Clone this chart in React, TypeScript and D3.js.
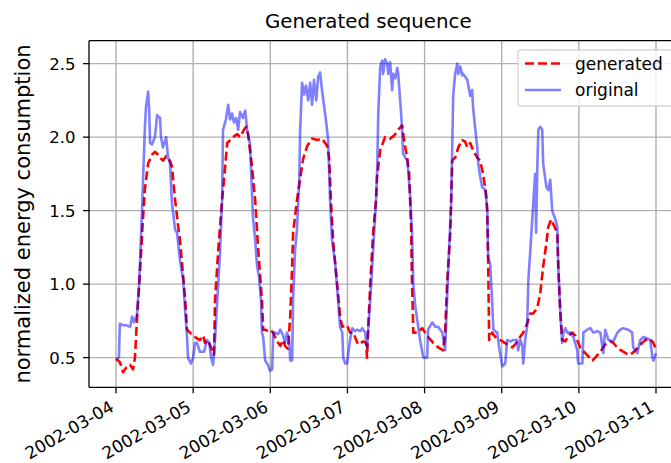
import React from "react";
import * as d3 from "d3";

// ---- data -------------------------------------------------------------
const START = Date.UTC(2002, 2, 4); // 2002-03-04 00:00
const HOUR = 3600 * 1000;

// original series: hours since start, values
const origHours = [
  0.0, 0.9, 1.2, 2.2, 3.1, 4.4, 5.0, 5.6, 6.5, 7.2, 8.1, 8.4, 9.0, 9.3, 10.0, 10.3, 10.6, 11.2, 12.1, 12.8,
  13.7, 14.0, 14.6, 15.6, 16.2, 16.8, 17.4, 18.4, 19.0, 19.9, 20.9, 21.5, 22.1, 22.4, 23.3, 24.0, 24.6, 25.2,
  26.1, 27.4, 28.3, 29.0, 29.6, 30.2, 30.8, 31.8, 32.4, 33.0, 33.3, 34.2, 34.9, 35.5, 36.1, 36.7, 37.4, 38.0,
  38.6, 39.5, 40.2, 40.8, 41.7, 42.6, 43.3, 43.9, 44.5, 45.1, 45.4, 45.8, 46.4, 47.3, 47.9, 48.6, 48.9, 49.5,
  50.4, 51.1, 52.0, 52.6, 53.2, 53.9, 54.2, 54.8, 55.1, 55.7, 56.3, 57.0, 57.3, 57.9, 58.5, 59.1, 59.8, 60.4,
  61.0, 61.6, 62.3, 62.9, 63.5, 64.1, 64.8, 65.4, 66.0, 66.6, 67.2, 68.2, 69.1, 69.7, 70.4, 70.7, 71.3, 71.9,
  72.8, 73.5, 74.4, 75.0, 76.0, 76.6, 77.5, 78.1, 79.1, 80.0, 80.9, 81.2, 81.6, 82.2, 82.8, 83.1, 83.7, 84.4,
  84.7, 85.3, 85.9, 86.2, 86.9, 87.5, 87.8, 88.7, 89.0, 89.3, 90.0, 90.6, 90.9, 91.5, 92.1, 92.5, 93.1, 93.7,
  94.6, 95.6, 96.8, 97.1, 98.4, 99.3, 100.2, 101.5, 102.4, 103.4, 104.3, 104.9, 105.5, 106.2, 106.5, 107.1,
  107.7, 108.0, 109.3, 110.2, 110.8, 111.1, 111.8, 112.4, 112.7, 113.3, 113.9, 114.9, 115.5, 115.8, 116.4,
  117.0, 117.4, 118.6, 119.2, 120.2, 121.1, 121.7, 122.7, 123.6, 124.8, 125.1, 125.8, 126.4, 126.7, 127.3,
  127.9, 128.3, 128.9, 129.5, 129.8, 130.4, 130.7, 131.1, 131.4, 132.0, 132.6, 132.9, 133.9, 134.5, 135.1,
  135.7, 136.7, 137.3, 137.6, 138.2, 138.8, 139.2, 139.8, 140.4, 141.3, 142.3, 143.5, 143.8, 145.1, 145.4,
  146.6, 147.6, 148.5, 149.7, 150.7, 151.6, 152.2, 153.2, 154.7, 156.0, 156.9, 157.8, 159.4, 160.6, 160.9,
  162.2, 163.1, 164.1, 165.3, 166.2, 166.9, 167.2, 168.0,
];
const origValues = [
  0.49, 0.5, 0.73, 0.72, 0.72, 0.71, 0.78, 0.74, 0.79, 1.0, 1.5, 1.7, 2.07, 2.2, 2.31, 2.2, 1.96, 1.95, 2.0, 2.15,
  2.13, 2.0, 1.93, 2.0, 1.86, 1.82, 1.55, 1.37, 1.35, 1.16, 1.03, 0.82, 0.64, 0.5, 0.46, 0.5, 0.6, 0.6,
  0.54, 0.54, 0.62, 0.6, 0.5, 0.45, 0.62, 1.0, 1.23, 1.57, 2.05, 2.12, 2.22, 2.12, 2.16, 2.1, 2.13, 2.05,
  2.17, 2.13, 2.18, 2.05, 1.95, 1.46, 1.3, 1.12, 1.05, 0.89, 0.67, 0.64, 0.48, 0.45, 0.41, 0.42, 0.67, 0.67,
  0.66, 0.69, 0.65, 0.6, 0.67, 0.62, 0.48, 0.48, 0.89, 1.23, 1.37, 1.7, 2.05, 2.37, 2.29, 2.35, 2.25, 2.37,
  2.22, 2.39, 2.25, 2.41, 2.44, 2.32, 2.2, 2.1, 1.98, 1.57, 1.3, 1.14, 0.89, 0.71, 0.67, 0.5, 0.46, 0.46,
  0.62, 0.7, 0.68, 0.69, 0.68, 0.7, 0.67, 0.57, 0.89, 1.23, 1.57, 1.73, 2.16, 2.48, 2.52, 2.43, 2.53, 2.5,
  2.43, 2.51, 2.32, 2.43, 2.4, 2.47, 2.43, 2.16, 2.05, 1.89, 1.86, 1.84, 1.77, 1.6, 1.35, 1.0, 0.85, 0.76,
  0.62, 0.5, 0.5, 0.69, 0.74, 0.71, 0.71, 0.67, 0.55, 1.12, 1.57, 2.28, 2.43, 2.5, 2.43, 2.48,
  2.42, 2.43, 2.39, 2.28, 2.32, 2.2, 2.05, 1.93, 1.82, 1.73, 1.66, 1.64, 1.5, 1.18, 1.14,
  0.89, 0.69, 0.67, 0.57, 0.44, 0.46, 0.62, 0.61, 0.62, 0.62, 0.55, 0.62, 0.58, 0.46, 0.62,
  0.71, 1.03, 1.23, 1.44, 1.55, 1.75, 1.35, 1.82, 2.05, 2.07, 2.05, 1.82, 1.66, 1.64, 1.71,
  1.5, 1.44, 1.39, 1.12, 0.82, 0.6, 0.67, 0.7, 0.67, 0.67, 0.64, 0.55, 0.46, 0.46, 0.67,
  0.69, 0.7, 0.67, 0.68, 0.67, 0.53, 0.69, 0.62, 0.61, 0.67, 0.69, 0.7, 0.69, 0.67, 0.57,
  0.53, 0.62, 0.64, 0.63, 0.62, 0.5, 0.48, 0.53,
];

// generated series: hours since start, values
const genHours = [
  0.0, 1.2, 2.2, 3.1, 4.4, 5.3, 5.9, 6.5, 7.5, 8.4, 9.0, 10.0, 11.2, 12.1, 13.1, 13.7, 14.6, 15.6, 16.8, 17.4,
  18.4, 19.3, 19.9, 20.9, 21.5, 22.1, 23.0, 24.0, 25.2, 26.1, 27.1, 27.7, 28.6, 29.9, 30.5, 30.8, 31.8, 33.0,
  33.6, 34.6, 35.5, 36.4, 37.7, 38.6, 39.8, 40.5, 41.1, 42.3, 43.3, 44.2, 45.4, 45.8, 46.4, 47.3, 47.9, 48.9,
  50.1, 51.1, 52.0, 52.6, 53.5, 54.2, 54.8, 55.1, 56.3, 57.3, 58.2, 59.5, 61.0, 62.6, 64.1, 65.7, 66.3, 66.9,
  67.6, 68.8, 69.7, 70.4, 71.9, 72.8, 73.8, 75.3, 76.9, 77.8, 78.1, 78.4, 79.1, 80.0, 80.9, 81.2, 82.2, 83.7,
  85.3, 86.5, 87.8, 89.0, 89.3, 90.0, 90.6, 91.2, 91.8, 92.1, 92.5, 93.7, 95.3, 96.2, 97.1, 98.7, 100.2, 101.8,
  102.4, 103.0, 104.0, 104.3, 104.6, 105.5, 106.5, 107.7, 108.6, 109.3, 110.2, 111.1, 112.4, 113.3, 114.2,
  115.2, 115.5, 115.8, 116.1, 117.0, 118.0, 119.5, 121.7, 123.3, 124.2, 125.1, 126.7, 127.9, 128.9, 129.8,
  131.1, 132.0, 132.9, 133.9, 134.5, 135.4, 136.0, 137.3, 137.6, 138.2, 138.8, 139.8, 140.7, 142.0, 142.9,
  144.4, 146.0, 148.2, 149.1, 150.7, 152.2, 153.8, 154.7, 156.3, 157.8, 159.4, 160.6, 161.6, 162.5, 163.7,
  164.7, 165.6, 166.9, 167.8,
];
const genValues = [
  0.49, 0.47, 0.4, 0.43, 0.45, 0.42, 0.5, 0.75, 1.1, 1.45, 1.65, 1.82, 1.88, 1.9, 1.88, 1.86, 1.84, 1.87, 1.84, 1.8,
  1.57, 1.4, 1.3, 1.05, 0.9, 0.69, 0.67, 0.65, 0.63, 0.62, 0.65, 0.6, 0.62, 0.55, 0.52, 0.89, 1.23, 1.57,
  1.71, 1.96, 1.98, 2.0, 2.02, 2.0, 2.05, 2.07, 2.02, 1.8, 1.57, 1.25, 0.89, 0.69, 0.69, 0.68, 0.69, 0.67,
  0.61, 0.58, 0.62, 0.58, 0.56, 0.78, 1.12, 1.35, 1.57, 1.72, 1.85, 1.94, 1.99, 1.98, 1.99, 1.94, 1.86, 1.55,
  1.28, 1.0, 0.78, 0.71, 0.72, 0.67, 0.67, 0.59, 0.61, 0.6, 0.5, 0.67, 1.0, 1.35, 1.57, 1.73, 1.91, 2.0,
  1.99, 2.01, 2.05, 2.08, 2.03, 1.93, 1.86, 1.75, 1.4, 1.0, 0.67, 0.67, 0.7, 0.67, 0.64, 0.6, 0.57, 0.55,
  0.67, 1.0, 1.35, 1.6, 1.84, 1.86, 1.93, 1.98, 1.97, 1.93, 1.96, 1.91, 1.86, 1.84, 1.75,
  1.6, 1.5, 1.12, 0.62, 0.67, 0.64, 0.62, 0.59, 0.57, 0.59, 0.62, 0.67, 0.73, 0.8, 0.8,
  0.84, 0.94, 1.12, 1.28, 1.39, 1.44, 1.41, 1.35, 1.12, 0.82, 0.62, 0.61, 0.65, 0.67, 0.65,
  0.57, 0.53, 0.48, 0.5, 0.54, 0.59, 0.61, 0.6, 0.56, 0.54, 0.52, 0.53, 0.55, 0.57, 0.6,
  0.62, 0.63, 0.61, 0.57,
];

const yTicks = [0.5, 1.0, 1.5, 2.0, 2.5];
const titleText = "Generated sequence";
const yLabelText = "normalized energy consumption";
const legendLabels = ["generated", "original"];

// ---- layout -------------------------------------------------------------
const W = 671;
const H = 463;
const L = 89;
const R = 683;
const T = 40.7;
const B = 387.3;
const FONT = "'DejaVu Sans', 'Liberation Sans', sans-serif";

export default function App() {
  const x = d3
    .scaleUtc()
    .domain([new Date(START - 0.35 * 24 * HOUR), new Date(START + 7.35 * 24 * HOUR)])
    .range([L, R]);
  const y = d3.scaleLinear().domain([0.298, 2.656]).range([B, T]);

  const xTicks = x.ticks(d3.utcDay.every(1));
  const fmt = d3.utcFormat("%Y-%m-%d");

  const orig = origHours.map((h, i) => ({ t: new Date(START + h * HOUR), v: origValues[i] }));
  const gen = genHours.map((h, i) => ({ t: new Date(START + h * HOUR), v: genValues[i] }));

  const line = d3
    .line<{ t: Date; v: number }>()
    .x((d) => x(d.t))
    .y((d) => y(d.v));

  const grid = "#b0b0b0";

  return (
    <svg
      width={W}
      height={H}
      style={{ position: "absolute", left: 0, top: 0, background: "#fff" }}
      fontFamily={FONT}
    >
      <defs>
        <clipPath id="plot">
          <rect x={L} y={T} width={R - L} height={B - T} />
        </clipPath>
      </defs>
      <rect x={0} y={0} width={W} height={H} fill="#fff" />

      {/* grid */}
      <g stroke={grid} strokeWidth={1.4}>
        {xTicks.map((t) => (
          <line key={"gx" + t.getTime()} x1={x(t)} x2={x(t)} y1={T} y2={B} />
        ))}
        {yTicks.map((v) => (
          <line key={"gy" + v} x1={L} x2={R} y1={y(v)} y2={y(v)} />
        ))}
      </g>

      {/* series */}
      <g clipPath="url(#plot)" fill="none" strokeLinejoin="round">
        <path d={line(gen) || ""} stroke="#ff0000" strokeWidth={2.6} strokeDasharray="9,4" />
        <path d={line(orig) || ""} stroke="#0000ff" strokeOpacity={0.5} strokeWidth={2.6} />
      </g>

      {/* spines */}
      <g stroke="#000" strokeWidth={1.3} fill="none">
        <line x1={L} x2={L} y1={T} y2={B} />
        <line x1={L} x2={R} y1={B} y2={B} />
        <line x1={L} x2={R} y1={T} y2={T} />
        <line x1={R} x2={R} y1={T} y2={B} />
      </g>

      {/* x ticks */}
      <g>
        {xTicks.map((t) => (
          <g key={"xt" + t.getTime()}>
            <line x1={x(t)} x2={x(t)} y1={B} y2={B + 6} stroke="#000" strokeWidth={1.3} />
            <text
              transform={`translate(${x(t) - 1},${B + 23}) rotate(-30)`}
              textAnchor="end"
              fontSize={17}
              fill="#000"
            >
              {fmt(t)}
            </text>
          </g>
        ))}
      </g>

      {/* y ticks */}
      <g>
        {yTicks.map((v) => (
          <g key={"yt" + v}>
            <line x1={L - 6} x2={L} y1={y(v)} y2={y(v)} stroke="#000" strokeWidth={1.3} />
            <text x={L - 13.5} y={y(v)} dy="0.36em" textAnchor="end" fontSize={16.5} fill="#000">
              {v.toFixed(1)}
            </text>
          </g>
        ))}
      </g>

      {/* y label */}
      <text
        transform={`translate(30,${(T + B) / 2}) rotate(-90)`}
        textAnchor="middle"
        fontSize={21}
        fill="#000"
      >
        {yLabelText}
      </text>

      {/* title */}
      <text x={265} y={28.3} textAnchor="start" fontSize={19.8} fill="#000">
        {titleText}
      </text>

      {/* legend */}
      <g>
        <rect
          x={518}
          y={50}
          width={157}
          height={56}
          rx={3}
          fill="#fff"
          fillOpacity={0.8}
          stroke="#cccccc"
          strokeOpacity={0.8}
          strokeWidth={1.3}
        />
        <line x1={525} x2={561} y1={63.5} y2={63.5} stroke="#ff0000" strokeWidth={2.6} strokeDasharray="9,4" />
        <text x={575} y={69.5} fontSize={17} fill="#000">
          {legendLabels[0]}
        </text>
        <line x1={525} x2={561} y1={90} y2={90} stroke="#0000ff" strokeOpacity={0.5} strokeWidth={2.6} />
        <text x={575} y={96} fontSize={17} fill="#000">
          {legendLabels[1]}
        </text>
      </g>
    </svg>
  );
}
